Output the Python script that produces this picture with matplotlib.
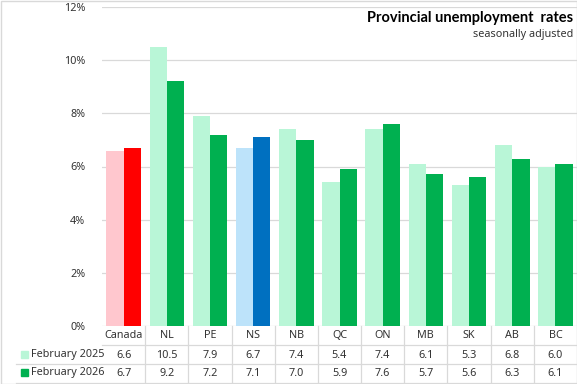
import numpy as np
import matplotlib
matplotlib.use("Agg")
from matplotlib import pyplot as plt
from matplotlib import transforms
from matplotlib.lines import Line2D
from matplotlib.patches import Rectangle

# data
regions = ["Canada", "NL", "PE", "NS", "NB", "QC", "ON", "MB", "SK", "AB", "BC"]
feb_2025 = [6.6, 10.5, 7.9, 6.7, 7.4, 5.4, 7.4, 6.1, 5.3, 6.8, 6.0]
feb_2026 = [6.7, 9.2, 7.2, 7.1, 7.0, 5.9, 7.6, 5.7, 5.6, 6.3, 6.1]
series_names = ["February 2025", "February 2026"]
y_ticks = [0, 2, 4, 6, 8, 10, 12]

# colours per region (light = 2025, dark = 2026)
light_green, dark_green = "#B9F6D7", "#00B050"
light_cols = [light_green] * len(regions)
dark_cols = [dark_green] * len(regions)
light_cols[0], dark_cols[0] = "#FFC7CE", "#FF0000"
light_cols[3], dark_cols[3] = "#BDE3FA", "#0070C0"

W, H = 577, 384
plt.rcParams['font.family'] = ['Noto Sans', 'DejaVu Sans']
txt_col = "#333333"
grid_col = "#D9D9D9"

fig = plt.figure(figsize=(W / 100, H / 100), dpi=100)
ax = fig.add_axes([102 / W, 58 / H, 475 / W, 319 / H])

x = np.arange(len(regions))
bw = 0.4
ax.bar(x - bw / 2, feb_2025, width=bw, color=light_cols, zorder=2)
ax.bar(x + bw / 2, feb_2026, width=bw, color=dark_cols, zorder=2)

ax.set_xlim(-0.5, len(regions) - 0.5)
ax.set_ylim(0, 12)
ax.set_yticks(y_ticks)
ax.set_yticklabels([f"{t}%" for t in y_ticks], fontsize=7.8, color=txt_col)
ax.tick_params(axis='y', length=0, pad=12)
ax.set_xticks([])
ax.grid(axis='y', color=grid_col, linewidth=0.9, zorder=0)
for s in ax.spines.values():
    s.set_visible(False)

# data table below the plot
def fy(py):
    return 1 - py / H

col_tr = transforms.blended_transform_factory(ax.transData, fig.transFigure)
for i, r in enumerate(regions):
    fig.text(i, fy(336), r, transform=col_tr, ha='center', va='center',
             fontsize=7.8, color=txt_col)
    fig.text(i, fy(355), f"{feb_2025[i]:.1f}", transform=col_tr, ha='center',
             va='center', fontsize=7.8, color=txt_col)
    fig.text(i, fy(373), f"{feb_2026[i]:.1f}", transform=col_tr, ha='center',
             va='center', fontsize=7.8, color=txt_col)

for i in range(len(regions) - 1):
    fig.add_artist(Line2D([i + 0.5, i + 0.5], [fy(326), fy(383)],
                          transform=col_tr, color=grid_col, linewidth=0.9))
fig.add_artist(Line2D([102 / W, 1], [fy(345), fy(345)], color=grid_col, linewidth=0.9))
for py in (364, 383):
    fig.add_artist(Line2D([16 / W, 1], [fy(py), fy(py)], color=grid_col, linewidth=0.9))

# row legend keys
for py, name, c in ((355, series_names[0], light_green), (373, series_names[1], dark_green)):
    fig.add_artist(Rectangle((21 / W, fy(py + 2.5)), 7 / W, 7 / H, color=c,
                             transform=fig.transFigure))
    fig.text(31 / W, fy(py), name, ha='left', va='center', fontsize=7.8, color=txt_col)

# title
fig.text(573 / W, fy(18), "Provincial unemployment  rates", ha='right', va='center',
         fontsize=10.5, fontweight='bold', family=['Lato', 'DejaVu Sans'], color="#000000")
fig.text(573 / W, fy(34), "seasonally adjusted", ha='right', va='center',
         fontsize=7.8, color=txt_col)

# outer border
fig.add_artist(Rectangle((0.5 / W, 0.5 / H), (W - 1) / W, (H - 1) / H, fill=False,
                         edgecolor=grid_col, linewidth=1, transform=fig.transFigure))

fig.savefig("out.png", dpi=100)
